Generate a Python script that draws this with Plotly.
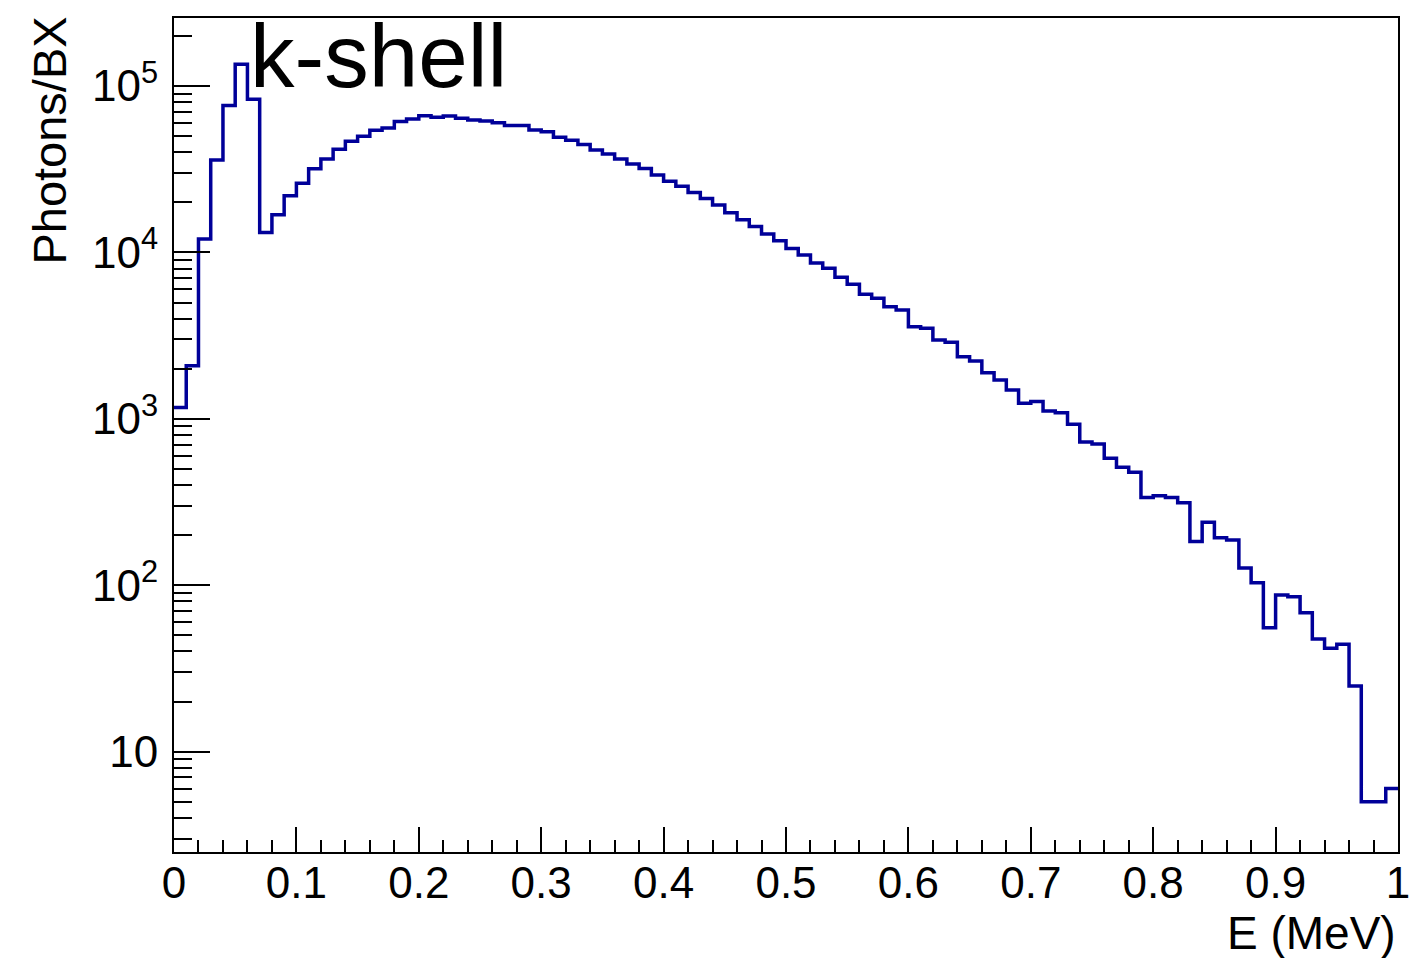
import numpy as np
import plotly.graph_objects as go

# Photon energy spectrum: 100 bins of 0.01 MeV from 0 to 1 MeV
e_min, e_max, n_bins = 0.0, 1.0, 100
photons_per_bx = [
    1170, 2085, 12050, 36000, 76500, 135000, 83200, 13200, 16850, 21900,
    26100, 31800, 36500, 41700, 46600, 49900, 54200, 56000, 61300, 63500,
    66400, 64900, 66000, 64000, 62500, 61600, 60100, 58000, 58000, 54500,
    53200, 49200, 47300, 44600, 41300, 39000, 36400, 34000, 32000, 29200,
    26800, 25000, 22900, 21100, 19300, 17300, 15700, 14300, 12900, 11760,
    10580, 9650, 8650, 8050, 7100, 6450, 5600, 5300, 4720, 4510,
    3580, 3500, 2980, 2885, 2360, 2225, 1890, 1710, 1490, 1240,
    1273, 1114, 1090, 927, 725, 706, 580, 512, 477, 337,
    345, 337, 313, 183, 239, 193, 187, 127, 103.5, 55.6,
    87.3, 85.3, 68.4, 47.5, 41.8, 44.2, 24.8, 5, 5, 6,
]

y_tick_vals = [10, 100, 1000, 10000, 100000]
y_tick_text = ["10", "10<sup>2</sup>", "10<sup>3</sup>", "10<sup>4</sup>", "10<sup>5</sup>"]
x_tick_vals = [0, 0.1, 0.2, 0.3, 0.4, 0.5, 0.6, 0.7, 0.8, 0.9, 1.0]
x_tick_text = ["0", "0.1", "0.2", "0.3", "0.4", "0.5", "0.6", "0.7", "0.8", "0.9", "1"]

edges = np.linspace(e_min, e_max, n_bins + 1)
step_y = photons_per_bx + [photons_per_bx[-1]]

FONT = "Liberation Sans, Arial, Helvetica, sans-serif"
LINE_COLOR = "#000099"

fig = go.Figure()
fig.add_trace(go.Scatter(
    x=edges, y=step_y, mode="lines",
    line=dict(shape="hv", color=LINE_COLOR, width=3.5),
    hoverinfo="skip", showlegend=False, cliponaxis=True,
))

fig.update_layout(
    width=1409, height=958, autosize=False,
    margin=dict(l=174, r=11, t=18, b=106, pad=0),
    paper_bgcolor="white", plot_bgcolor="white",
    font=dict(family=FONT, size=44, color="black"),
    xaxis=dict(
        range=[e_min, e_max], showgrid=False, zeroline=False,
        showline=True, linecolor="black", linewidth=2, mirror=True,
        tickmode="array", tickvals=x_tick_vals, ticktext=x_tick_text,
        ticks="inside", ticklen=25, tickwidth=2, tickcolor="black",
        minor=dict(ticks="inside", ticklen=12, tickwidth=2, tickcolor="black",
                   dtick=0.02, tick0=0, showgrid=False),
        tickfont=dict(family=FONT, size=44), ticklabelstandoff=-9,
        automargin=False, ticklabeloverflow="allow",
    ),
    yaxis=dict(
        type="log", range=[0.397, 5.409], showgrid=False, zeroline=False,
        showline=True, linecolor="black", linewidth=2, mirror=True,
        tickmode="array", tickvals=y_tick_vals, ticktext=y_tick_text,
        ticks="inside", ticklen=36, tickwidth=2, tickcolor="black",
        minor=dict(ticks="inside", ticklen=18, tickwidth=2, tickcolor="black",
                   dtick="D1", showgrid=False),
        tickfont=dict(family=FONT, size=44), ticklabelstandoff=5,
        automargin=False, ticklabeloverflow="allow",
    ),
    annotations=[
        dict(text="k-shell", xref="paper", yref="paper", x=0.0605, y=0.955,
             xanchor="left", yanchor="middle", showarrow=False,
             font=dict(family=FONT, size=89, color="black")),
        dict(text="E (MeV)", xref="paper", yref="paper", x=1.0, y=-0.097,
             xanchor="right", yanchor="middle", showarrow=False,
             font=dict(family=FONT, size=46, color="black")),
        dict(text="Photons/BX", xref="paper", yref="paper", x=-0.1013, y=0.853,
             xanchor="center", yanchor="middle", textangle=-90, showarrow=False,
             font=dict(family=FONT, size=47, color="black")),
    ],
)

fig.write_html("out.html", config={"responsive": False})
